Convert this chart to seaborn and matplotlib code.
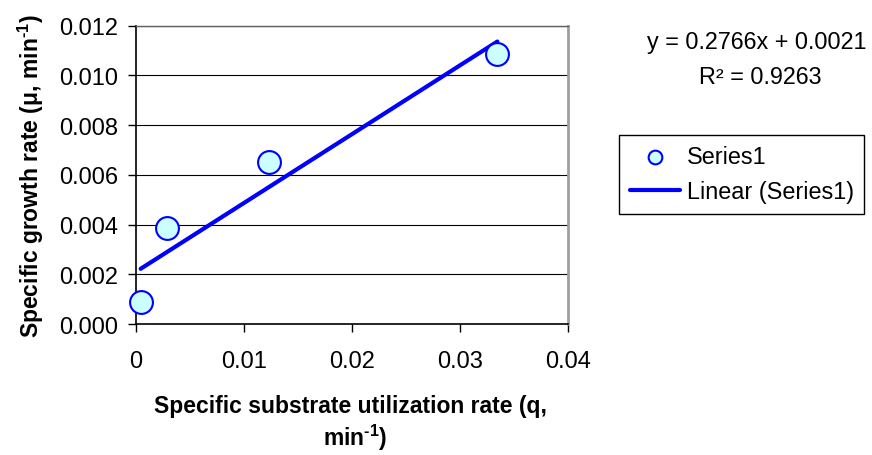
import matplotlib
matplotlib.use("Agg")
import matplotlib.pyplot as plt
import seaborn as sns
import pandas as pd

# Data
q_values = [0.00043, 0.00287, 0.01235, 0.03346]
mu_values = [0.00087, 0.00384, 0.00653, 0.01087]
slope = 0.2766
intercept = 0.0021
r_squared = 0.9263
x_ticks = [0, 0.01, 0.02, 0.03, 0.04]
x_tick_labels = ["0", "0.01", "0.02", "0.03", "0.04"]
y_ticks = [0.000, 0.002, 0.004, 0.006, 0.008, 0.010, 0.012]
y_tick_labels = ["0.000", "0.002", "0.004", "0.006", "0.008", "0.010", "0.012"]

sns.set_style("white")
plt.rcParams['font.family'] = ['Liberation Sans', 'DejaVu Sans']
plt.rcParams['mathtext.fontset'] = 'custom'
plt.rcParams['mathtext.rm'] = 'Liberation Sans:bold'
plt.rcParams['mathtext.bf'] = 'Liberation Sans:bold'
plt.rcParams['text.color'] = 'black'
plt.rcParams['axes.labelcolor'] = 'black'
plt.rcParams['xtick.color'] = 'black'
plt.rcParams['ytick.color'] = 'black'

df = pd.DataFrame({"q": q_values, "mu": mu_values})
trend_x = [min(q_values), max(q_values)]
trend = pd.DataFrame({"q": trend_x, "mu": [slope * v + intercept for v in trend_x]})

fig = plt.figure(figsize=(8.72, 4.56), dpi=100)
ax = fig.add_axes([136/872, 1 - 325/456, (568-136)/872, (325-26.5)/456])

for yv in y_ticks[1:]:
    ax.axhline(yv, color="black", lw=0.8, zorder=0)

sns.lineplot(data=trend, x="q", y="mu", ax=ax, color="#0000FF", lw=3,
             label="Linear (Series1)", zorder=2, legend=False)
sns.scatterplot(data=df, x="q", y="mu", ax=ax, s=270, color="#CCFFFF",
                edgecolor="#0000FF", linewidth=1.5, zorder=3, label="Series1",
                legend=False, clip_on=False)

ax.set_xlim(0, 0.04)
ax.set_ylim(0, 0.012)
ax.set_xticks(x_ticks)
ax.set_xticklabels(x_tick_labels)
ax.set_yticks(y_ticks)
ax.set_yticklabels(y_tick_labels)
ax.tick_params(axis="x", direction="out", length=5.5, width=1, pad=13, labelsize=17, bottom=True)
ax.tick_params(axis="y", direction="out", length=6, width=1, pad=7, labelsize=17, left=True)

for s in ["left", "bottom"]:
    ax.spines[s].set_color("black")
    ax.spines[s].set_linewidth(1.2)
ax.spines["top"].set_color("#606060")
ax.spines["top"].set_linewidth(1.0)
ax.spines["right"].set_color("#A0A0A0")
ax.spines["right"].set_linewidth(2)

ax.set_ylabel(r"Specific growth rate (μ, min$^{\text{-1}}$)", fontsize=16.5,
              fontweight="bold", labelpad=9)
ax.set_xlabel("")
fig.text(350/872, 1 - 407/456, "Specific substrate utilization rate (q,",
         ha="center", va="center", fontsize=16.5, fontweight="bold")
fig.text(355/872, 1 - 438/456, r"min$^{\text{-1}}$)",
         ha="center", va="center", fontsize=16.5, fontweight="bold")

fig.text(757/872, 1 - 43/456, f"y = {slope}x + {intercept}", ha="center", va="center", fontsize=16.8)
fig.text(760/872, 1 - 78/456, f"R² = {r_squared}", ha="center", va="center", fontsize=16.8)

handles, labels = ax.get_legend_handles_labels()
order = [labels.index("Series1"), labels.index("Linear (Series1)")]
leg = fig.legend([handles[i] for i in order], [labels[i] for i in order],
                 loc="upper left", bbox_to_anchor=(619/872, 1 - 136/456),
                 fontsize=16.8, frameon=True, fancybox=False, edgecolor="black",
                 framealpha=1, borderpad=0.45, handlelength=2.15, handletextpad=0.3,
                 labelspacing=0.5, borderaxespad=0, markerscale=0.6)
leg.get_frame().set_linewidth(1)

fig.savefig("out.png", dpi=100)
